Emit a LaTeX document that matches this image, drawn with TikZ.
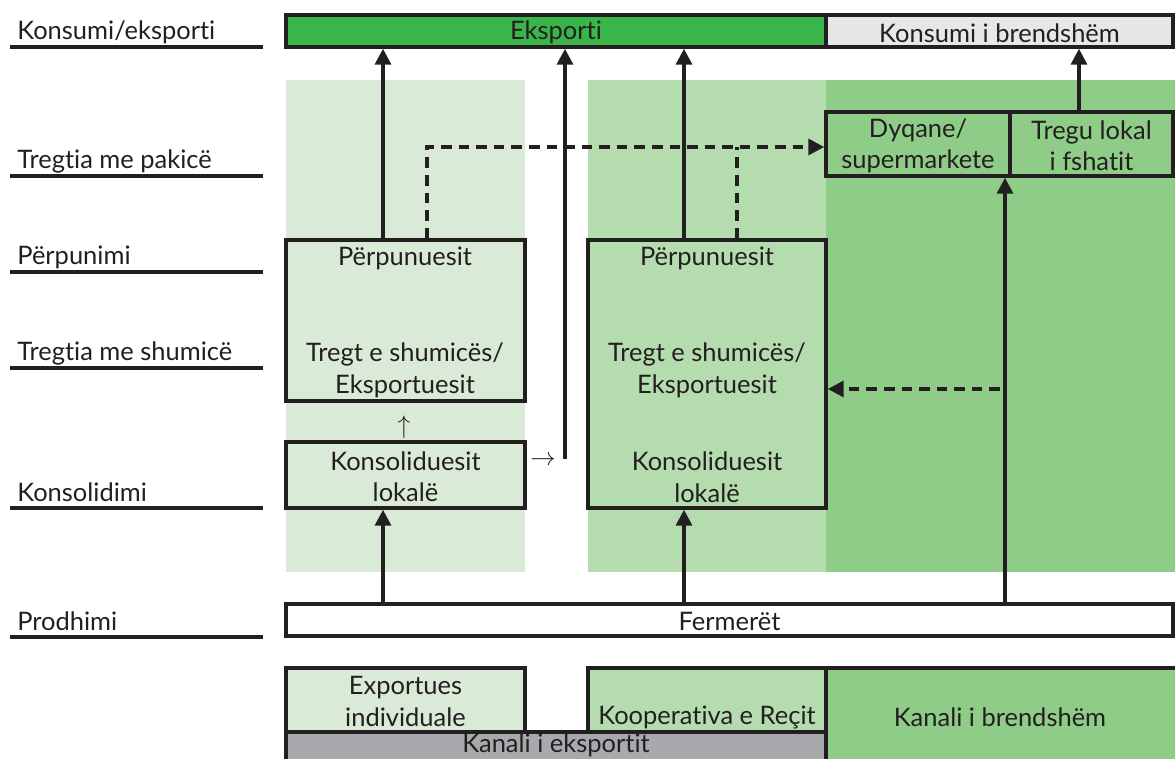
\documentclass[tikz,border=0pt]{standalone}
\usepackage{fontspec}
\setmainfont{Lato}[Ligatures={NoCommon,NoContextual}]
\usetikzlibrary{arrows.meta, calc, fit}
\definecolor{ink}{HTML}{231F20}
\definecolor{ekspGreen}{HTML}{3AB54A}
\definecolor{konsGray}{HTML}{E6E7E8}
\definecolor{kanGray}{HTML}{A7A9AC}
\definecolor{colA}{HTML}{D9EBD6}
\definecolor{colB}{HTML}{B4DCAE}
\definecolor{colC}{HTML}{8FCC88}

\begin{document}
\begin{tikzpicture}[x=0.02cm,y=-0.02cm,font=\fontsize{14.5}{18}\selectfont,text=ink,
 box/.style={draw=ink,line width=2pt,inner sep=0},
 inside/.style={label={[align=center,inner sep=0,yshift=-1pt]center:#1}},
 flow/.style={draw=ink,line width=2pt,-{Triangle[width=9pt,length=9pt]}},
 flowd/.style={flow,dash pattern=on 6pt off 4pt},
 lvl/.style={anchor=base west,inner sep=0},
 rule/.style={draw=ink,line width=2pt}]
\useasboundingbox (0,0) rectangle (1175,759);
% columns behind the chain
\fill[colA] (286,80) rectangle (525,572);\fill[colB] (588,80) rectangle (826,572);\fill[colC] (826,80) rectangle (1175,572);
% stage labels on the left
\foreach \y/\t [count=\i] in {47/{Konsumi/eksporti},176/{Tregtia me pakicë},272/{Përpunimi},368/{Tregtia me shumicë},508/{Konsolidimi},637/{Prodhimi}}{
 \node[lvl] (lvl\i) at (17,\y-7) {\t}; \draw[rule] (10,\y) -- (263,\y);}
% boxes
\node[box,fill=ekspGreen,fit={(286,15)(826,47)},inside=Eksporti] (eksp) {};
\node[box,fill=konsGray,fit={(826,15)(1173,47)},inside=Konsumi i brendshëm] (kons) {};
\node[box,fit={(826,112)(1010,176)},inside={Dyqane/\\supermarkete}] (dyq) {};
\node[box,fit={(1010,112)(1173,176)},inside={Tregu lokal\\i fshatit}] (treg) {};
\node[box,fit={(286,240)(525,401)}] (lpBox) {};
\node (lpT1) at (405,258) {Përpunuesit};\node[align=center] (lpT2) at (405,370) {Tregt e shumicës/\\Eksportuesit};
\node[box,fit={(286,442)(525,508)},inside={Konsoliduesit\\lokalë}] (lkBox) {};
\node (upSign) at (404,427) {$\uparrow$};\node (rightSign) at (543,461) {$\rightarrow$};
\node[box,fit={(588,240)(826,508)}] (mBox) {};
\node (mT1) at (707,258) {Përpunuesit};\node[align=center] (mT2) at (707,370) {Tregt e shumicës/\\Eksportuesit};
\node[align=center] (mT3) at (707,477) {Konsoliduesit\\lokalë};
\node[box,fill=white,fit={(286,604)(1173,636)},inside=Fermerët] (ferm) {};
% channels at the bottom
\node[box,fill=colA,fit={(286,668)(525,732)},inside={Exportues\\individuale}] (expInd) {};
\node[box,fill=colB,fit={(588,668)(826,732)}] (koop) {};\node (koopT) at (707,717) {Kooperativa e Reçit};
\node[box,fill=colC,fit={(826,668)(1185,770)}] (kanB) {};\node (kanBT) at (1000,717) {Kanali i brendshëm};
\node[box,fill=kanGray,fit={(286,732)(826,770)}] (kanE) {};\node (kanET) at (556,745) {Kanali i eksportit};
% flows
\coordinate (xA) at (383,0);\coordinate (xB) at (684,0);\coordinate (xC) at (1005,0);\coordinate (xD) at (1079,0);
\coordinate (dL) at (427,0);\coordinate (dR) at (737,0);\coordinate (dY) at (0,147);
\coordinate (kEnd) at (565,459);\coordinate (dS) at (1000,389);
\draw[flow] (lpBox.north -| xA) -- (eksp.south -| xA);\draw[flow] (kEnd) -- (eksp.south -| kEnd);\draw[flow] (mBox.north -| xB) -- (eksp.south -| xB);
\draw[flow] (ferm.north -| xA) -- (lkBox.south -| xA);\draw[flow] (ferm.north -| xB) -- (mBox.south -| xB);\draw[flow] (ferm.north -| xC) -- (dyq.south -| xC);
\draw[flow] (treg.north -| xD) -- (kons.south -| xD);
\draw[flowd] (lpBox.north -| dL) |- (dyq.west |- dY);\draw[flowd,-] (mBox.north -| dR) -- (dR |- dY);\draw[flowd] (dS) -- (mBox.east |- dS);
\end{tikzpicture}
\end{document}
